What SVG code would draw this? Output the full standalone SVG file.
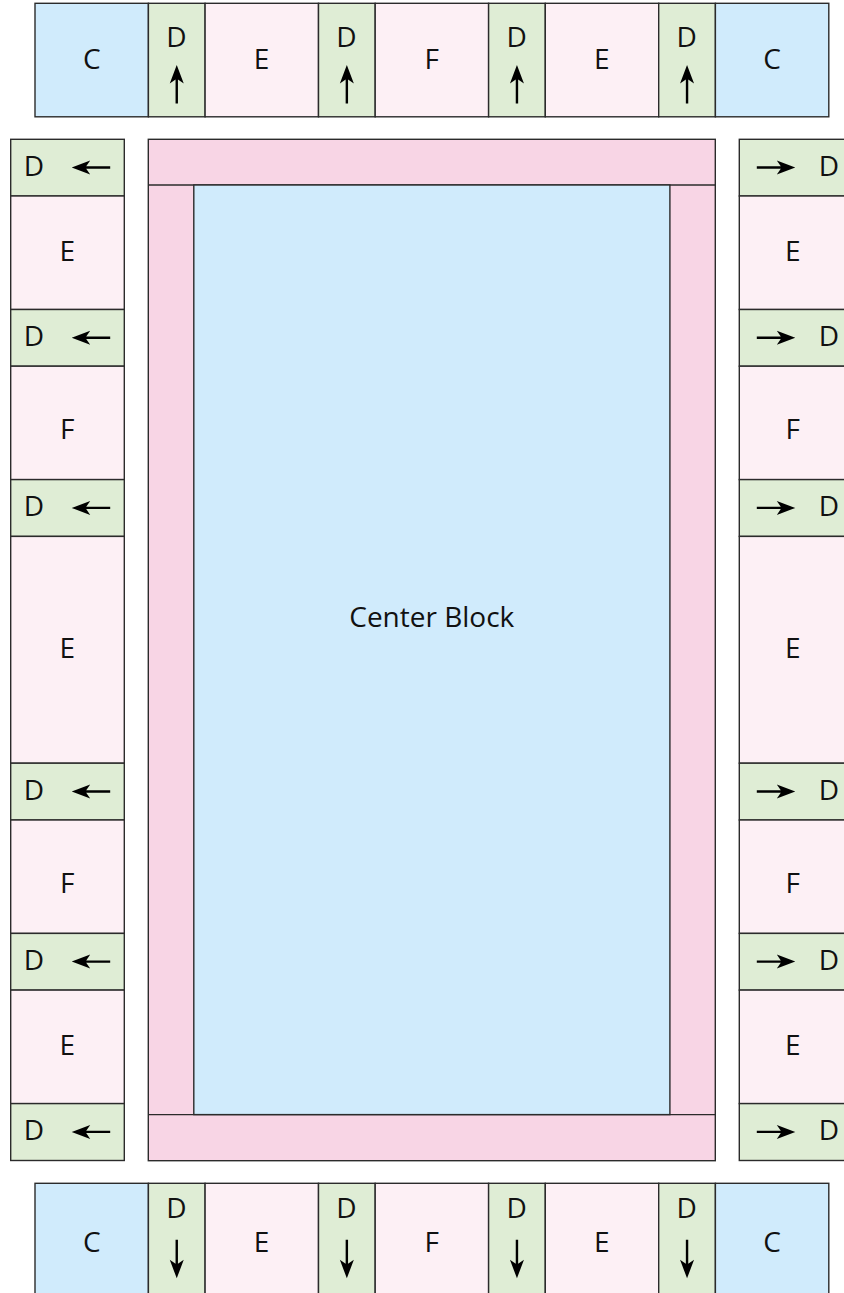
<svg xmlns="http://www.w3.org/2000/svg" xmlns:xlink="http://www.w3.org/1999/xlink" width="844" height="1293" viewBox="0 0 844 1293">
<style>
rect{stroke:#2b2b2b;stroke-width:1.4}
.c{fill:#d0ebfc}
.d{fill:#dfedd5}
.e{fill:#fdf0f5}
.band{fill:#f8d5e5}
line{stroke:#2b2b2b;stroke-width:1.4}
text{font-family:"Open Sans","Noto Sans","Liberation Sans",sans-serif;font-size:28px;fill:#111;text-anchor:middle}
.arr{fill:#000}
</style>
<defs>
<path id="arrow" d="M0,0 L7,18.5 L1.2,14.5 L1.2,38.5 L-1.2,38.5 L-1.2,14.5 L-7,18.5 Z"/>
</defs>

<!-- Top strip -->
<g id="top-strip">
<g id="top-c1"><rect class="c" x="35" y="3.3" width="113.4" height="113.5"/><text x="91.7" y="69">C</text></g>
<g id="top-d1"><rect class="d" x="148.4" y="3.3" width="56.7" height="113.5"/><text x="176.4" y="46.7">D</text><use class="arr" href="#arrow" transform="translate(176.75,65)"/></g>
<g id="top-e1"><rect class="e" x="205.1" y="3.3" width="113.4" height="113.5"/><text x="261.6" y="69">E</text></g>
<g id="top-d2"><rect class="d" x="318.5" y="3.3" width="56.7" height="113.5"/><text x="346.5" y="46.7">D</text><use class="arr" href="#arrow" transform="translate(346.85,65)"/></g>
<g id="top-f"><rect class="e" x="375.2" y="3.3" width="113.4" height="113.5"/><text x="431.7" y="69">F</text></g>
<g id="top-d3"><rect class="d" x="488.6" y="3.3" width="56.7" height="113.5"/><text x="516.6" y="46.7">D</text><use class="arr" href="#arrow" transform="translate(516.95,65)"/></g>
<g id="top-e2"><rect class="e" x="545.3" y="3.3" width="113.4" height="113.5"/><text x="601.8" y="69">E</text></g>
<g id="top-d4"><rect class="d" x="658.7" y="3.3" width="56.7" height="113.5"/><text x="686.7" y="46.7">D</text><use class="arr" href="#arrow" transform="translate(687.05,65)"/></g>
<g id="top-c2"><rect class="c" x="715.4" y="3.3" width="113.4" height="113.5"/><text x="772.1" y="69">C</text></g>
</g>

<!-- Bottom strip -->
<g id="bottom-strip">
<g id="bot-c1"><rect class="c" x="35" y="1183.3" width="113.4" height="113.5"/><text x="91.7" y="1251.7">C</text></g>
<g id="bot-d1"><rect class="d" x="148.4" y="1183.3" width="56.7" height="113.5"/><text x="176.4" y="1218.3">D</text><use class="arr" href="#arrow" transform="translate(176.75,1278.3) rotate(180)"/></g>
<g id="bot-e1"><rect class="e" x="205.1" y="1183.3" width="113.4" height="113.5"/><text x="261.6" y="1251.7">E</text></g>
<g id="bot-d2"><rect class="d" x="318.5" y="1183.3" width="56.7" height="113.5"/><text x="346.5" y="1218.3">D</text><use class="arr" href="#arrow" transform="translate(346.85,1278.3) rotate(180)"/></g>
<g id="bot-f"><rect class="e" x="375.2" y="1183.3" width="113.4" height="113.5"/><text x="431.7" y="1251.7">F</text></g>
<g id="bot-d3"><rect class="d" x="488.6" y="1183.3" width="56.7" height="113.5"/><text x="516.6" y="1218.3">D</text><use class="arr" href="#arrow" transform="translate(516.95,1278.3) rotate(180)"/></g>
<g id="bot-e2"><rect class="e" x="545.3" y="1183.3" width="113.4" height="113.5"/><text x="601.8" y="1251.7">E</text></g>
<g id="bot-d4"><rect class="d" x="658.7" y="1183.3" width="56.7" height="113.5"/><text x="686.7" y="1218.3">D</text><use class="arr" href="#arrow" transform="translate(687.05,1278.3) rotate(180)"/></g>
<g id="bot-c2"><rect class="c" x="715.4" y="1183.3" width="113.4" height="113.5"/><text x="772.1" y="1251.7">C</text></g>
</g>

<!-- Left column -->
<g id="left-column">
<g id="left-d1"><rect class="d" x="10.7" y="139.3" width="113.6" height="56.7"/><text x="33.8" y="176">D</text><use class="arr" href="#arrow" transform="translate(71.7,167.5) rotate(-90)"/></g>
<g id="left-e1"><rect class="e" x="10.7" y="196" width="113.6" height="113.5"/><text x="67.3" y="260.8">E</text></g>
<g id="left-d2"><rect class="d" x="10.7" y="309.5" width="113.6" height="56.7"/><text x="33.8" y="346.2">D</text><use class="arr" href="#arrow" transform="translate(71.7,337.7) rotate(-90)"/></g>
<g id="left-f1"><rect class="e" x="10.7" y="366.2" width="113.6" height="113.4"/><text x="67.3" y="439.3">F</text></g>
<g id="left-d3"><rect class="d" x="10.7" y="479.6" width="113.6" height="56.8"/><text x="33.8" y="516.4">D</text><use class="arr" href="#arrow" transform="translate(71.7,507.9) rotate(-90)"/></g>
<g id="left-e2"><rect class="e" x="10.7" y="536.4" width="113.6" height="226.8"/><text x="67.3" y="658">E</text></g>
<g id="left-d4"><rect class="d" x="10.7" y="763.2" width="113.6" height="56.8"/><text x="33.8" y="800">D</text><use class="arr" href="#arrow" transform="translate(71.7,791.5) rotate(-90)"/></g>
<g id="left-f2"><rect class="e" x="10.7" y="820" width="113.6" height="113.4"/><text x="67.3" y="893.1">F</text></g>
<g id="left-d5"><rect class="d" x="10.7" y="933.4" width="113.6" height="56.7"/><text x="33.8" y="970.1">D</text><use class="arr" href="#arrow" transform="translate(71.7,961.6) rotate(-90)"/></g>
<g id="left-e3"><rect class="e" x="10.7" y="990.1" width="113.6" height="113.5"/><text x="67.3" y="1054.9">E</text></g>
<g id="left-d6"><rect class="d" x="10.7" y="1103.6" width="113.6" height="56.9"/><text x="33.8" y="1140.4">D</text><use class="arr" href="#arrow" transform="translate(71.7,1131.9) rotate(-90)"/></g>
</g>

<!-- Right column -->
<g id="right-column">
<g id="right-d1"><rect class="d" x="739.3" y="139.3" width="113.6" height="56.7"/><text x="828.8" y="176">D</text><use class="arr" href="#arrow" transform="translate(795.3,167.5) rotate(90)"/></g>
<g id="right-e1"><rect class="e" x="739.3" y="196" width="113.6" height="113.5"/><text x="792.8" y="260.8">E</text></g>
<g id="right-d2"><rect class="d" x="739.3" y="309.5" width="113.6" height="56.7"/><text x="828.8" y="346.2">D</text><use class="arr" href="#arrow" transform="translate(795.3,337.7) rotate(90)"/></g>
<g id="right-f1"><rect class="e" x="739.3" y="366.2" width="113.6" height="113.4"/><text x="792.8" y="439.3">F</text></g>
<g id="right-d3"><rect class="d" x="739.3" y="479.6" width="113.6" height="56.8"/><text x="828.8" y="516.4">D</text><use class="arr" href="#arrow" transform="translate(795.3,507.9) rotate(90)"/></g>
<g id="right-e2"><rect class="e" x="739.3" y="536.4" width="113.6" height="226.8"/><text x="792.8" y="658">E</text></g>
<g id="right-d4"><rect class="d" x="739.3" y="763.2" width="113.6" height="56.8"/><text x="828.8" y="800">D</text><use class="arr" href="#arrow" transform="translate(795.3,791.5) rotate(90)"/></g>
<g id="right-f2"><rect class="e" x="739.3" y="820" width="113.6" height="113.4"/><text x="792.8" y="893.1">F</text></g>
<g id="right-d5"><rect class="d" x="739.3" y="933.4" width="113.6" height="56.7"/><text x="828.8" y="970.1">D</text><use class="arr" href="#arrow" transform="translate(795.3,961.6) rotate(90)"/></g>
<g id="right-e3"><rect class="e" x="739.3" y="990.1" width="113.6" height="113.5"/><text x="792.8" y="1054.9">E</text></g>
<g id="right-d6"><rect class="d" x="739.3" y="1103.6" width="113.6" height="56.9"/><text x="828.8" y="1140.4">D</text><use class="arr" href="#arrow" transform="translate(795.3,1131.9) rotate(90)"/></g>
</g>

<!-- Center block -->
<g id="center-block">
<rect class="band" x="148.3" y="139.3" width="567" height="1021.4"/>
<line x1="148.3" y1="185" x2="715.3" y2="185"/>
<line x1="148.3" y1="1114.6" x2="715.3" y2="1114.6"/>
<rect class="c" x="193.8" y="185" width="476.1" height="929.6"/>
<text x="431.8" y="627">Center Block</text>
</g>
<g id="connectors"/>
</svg>
